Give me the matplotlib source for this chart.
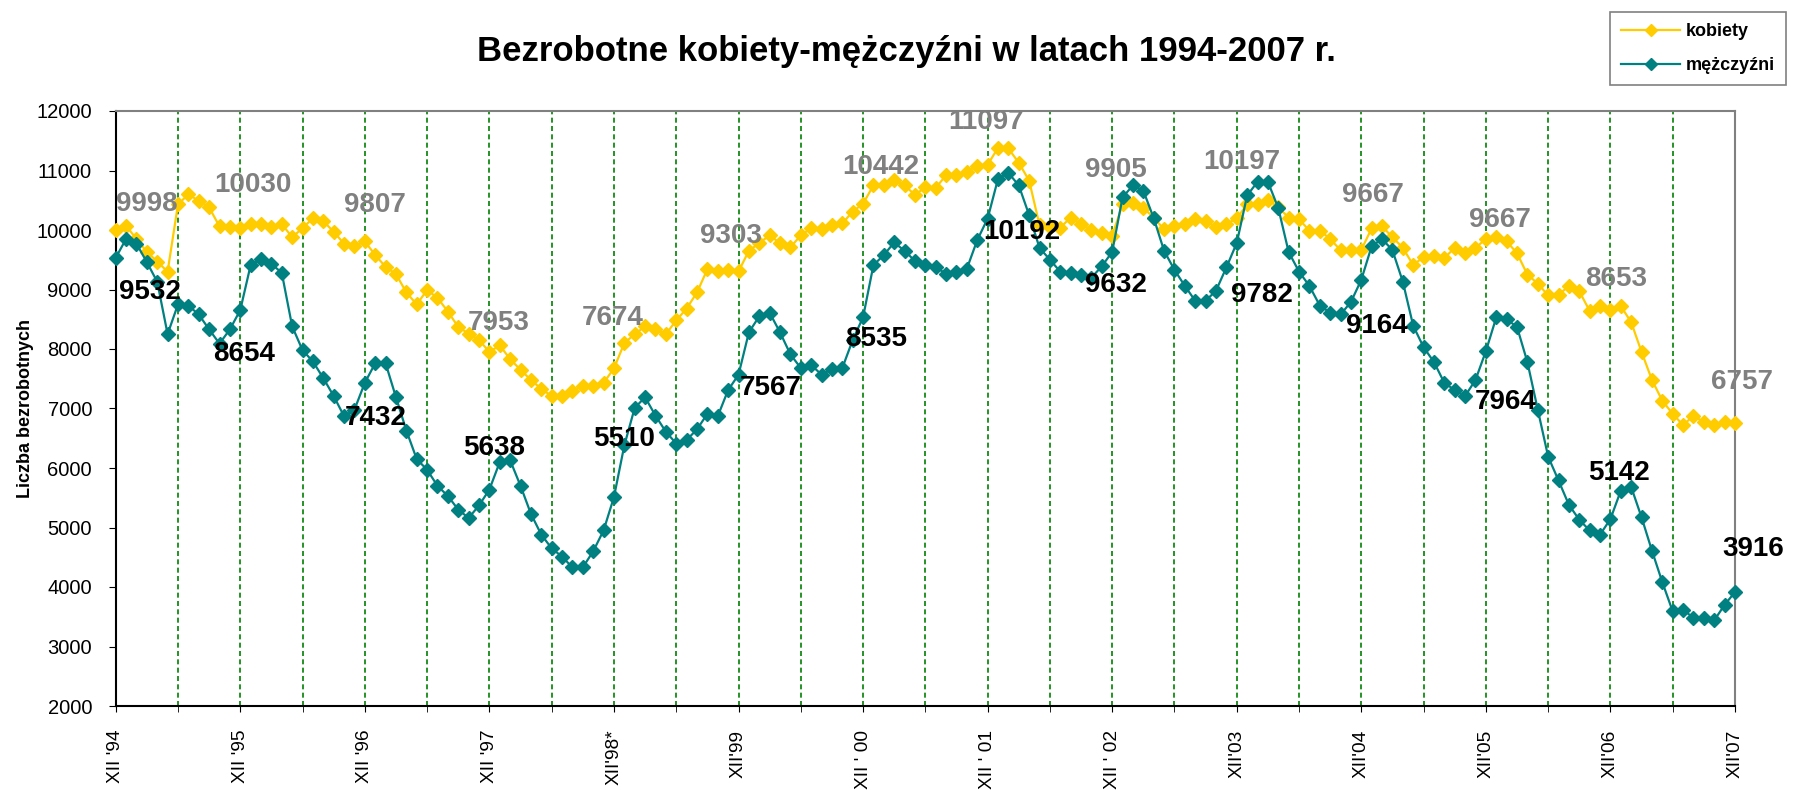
import numpy as np
import matplotlib
matplotlib.use("Agg")
import matplotlib.pyplot as plt

plt.rcParams['font.family'] = ['Liberation Sans', 'DejaVu Sans']

# Dane miesięczne XII 1994 - XII 2007 (157 punktów)
kobiety = [
    9998, 10070, 9850, 9630, 9470, 9300, 10430, 10600, 10490, 10380, 10060, 10050,
    10030, 10100, 10100, 10050, 10100, 9880, 10030, 10200, 10150, 9970, 9770, 9730,
    9807, 9580, 9380, 9260, 8950, 8750, 8990, 8860, 8630, 8370, 8260, 8150,
    7953, 8060, 7830, 7650, 7480, 7330, 7210, 7210, 7300, 7380, 7380, 7430,
    7674, 8100, 8250, 8380, 8330, 8250, 8480, 8680, 8950, 9340, 9310, 9320,
    9303, 9650, 9780, 9910, 9780, 9710, 9910, 10030, 10010, 10080, 10110, 10310,
    10442, 10750, 10760, 10840, 10750, 10590, 10720, 10710, 10920, 10920, 10980, 11080,
    11097, 11380, 11370, 11130, 10830, 10080, 10050, 10040, 10210, 10100, 10000, 9950,
    9905, 10430, 10460, 10370, 10210, 10010, 10060, 10100, 10190, 10150, 10050, 10100,
    10197, 10430, 10430, 10510, 10380, 10210, 10180, 9990, 9990, 9850, 9660, 9660,
    9667, 10030, 10060, 9880, 9700, 9410, 9550, 9570, 9530, 9700, 9610, 9700,
    9850, 9880, 9810, 9610, 9250, 9100, 8900, 8910, 9060, 8970, 8640, 8720,
    8653, 8720, 8450, 7950, 7480, 7130, 6910, 6720, 6880, 6770, 6730, 6770,
    6757,
]
mezczyzni = [
    9532, 9850, 9770, 9460, 9130, 8250, 8750, 8730, 8580, 8330, 8090, 8330,
    8654, 9410, 9510, 9430, 9280, 8380, 7980, 7790, 7510, 7210, 6870, 6980,
    7432, 7760, 7760, 7190, 6630, 6150, 5970, 5700, 5530, 5300, 5160, 5370,
    5638, 6100, 6130, 5700, 5230, 4880, 4650, 4510, 4330, 4330, 4600, 4950,
    5510, 6380, 7010, 7190, 6880, 6610, 6410, 6470, 6650, 6910, 6870, 7310,
    7567, 8280, 8550, 8610, 8280, 7910, 7680, 7730, 7570, 7660, 7680, 8150,
    8535, 9410, 9580, 9790, 9650, 9480, 9410, 9380, 9260, 9300, 9350, 9830,
    10192, 10860, 10960, 10750, 10250, 9700, 9500, 9300, 9270, 9250, 9200, 9390,
    9632, 10550, 10750, 10660, 10200, 9650, 9330, 9060, 8810, 8810, 8980, 9370,
    9782, 10580, 10810, 10810, 10370, 9630, 9300, 9060, 8730, 8610, 8580, 8790,
    9164, 9730, 9850, 9660, 9130, 8390, 8030, 7780, 7430, 7310, 7210, 7480,
    7964, 8530, 8500, 8370, 7780, 6980, 6190, 5790, 5380, 5130, 4950, 4880,
    5142, 5620, 5680, 5170, 4610, 4080, 3590, 3620, 3480, 3480, 3440, 3700,
    3916,
]

tick_labels = ["XII '94", "XII '95", "XII '96", "XII '97", "XII'98*", "XII'99",
               "XII ' 00", "XII ' 01", "XII ' 02", "XII'03", "XII'04", "XII'05",
               "XII'06", "XII'07"]

# etykiety danych (co grudzień)
kob_etykiety = ["9998", "10030", "9807", "7953", "7674", "9303", "10442",
                "11097", "9905", "10197", "9667", "9667", "8653", "6757"]
mez_etykiety = ["9532", "8654", "7432", "5638", "5510", "7567", "8535",
                "10192", "9632", "9782", "9164", "7964", "5142", "3916"]

# przesunięcia etykiet w pikselach
kob_off = [(31, 26), (13, 43), (10, 36), (9, 29), (-1, 50), (-8, 35), (18, 37),
           (-2, 43), (4, 66), (5, 56), (12, 55), (14, 19), (6, 31), (7, 41)]
mez_off = [(34, -34), (4, -44), (11, -35), (5, 42), (10, 58), (32, -13), (13, -22),
           (34, -13), (4, -33), (25, -52), (15, -46), (20, -51), (9, 46), (18, 43)]

x = np.arange(len(kobiety))

fig = plt.figure(figsize=(17.95, 7.9), dpi=100)
ax = fig.add_axes([115.7 / 1795, 1 - 706 / 790, (1735 - 115.7) / 1795, (706 - 111) / 790])

kol_k = '#FFCC00'
kol_m = '#008080'

ax.plot(x, kobiety, color=kol_k, lw=1.6, marker='D', ms=7, mec=kol_k, mfc=kol_k,
        label='kobiety', clip_on=False, zorder=3)
ax.plot(x, mezczyzni, color=kol_m, lw=1.6, marker='D', ms=7, mec=kol_m, mfc=kol_m,
        label='mężczyźni', clip_on=False, zorder=4)

for k in range(6, 156, 6):
    ax.axvline(k, color='#008000', lw=1.2, dashes=(3, 2), zorder=1)

ax.set_xlim(0, 156)
ax.set_ylim(2000, 12000)
ax.set_yticks(range(2000, 12001, 1000))
ax.set_xticks(range(0, 157, 12))
ax.set_xticklabels(tick_labels, rotation=90, fontsize=13.8)
ax.set_xticks(range(6, 157, 12), minor=True)
ax.tick_params(axis='x', which='both', length=4, direction='out', pad=13)
ax.tick_params(axis='y', length=5, labelsize=14.5, pad=12)

ax.spines['top'].set_color('#808080')
ax.spines['right'].set_color('#808080')
ax.spines['left'].set_color('black')
ax.spines['bottom'].set_color('black')
for s in ax.spines.values():
    s.set_linewidth(1.5)

ax.set_ylabel('Liczba bezrobotnych', fontsize=13, fontweight='bold', labelpad=2)

for j in range(len(kob_etykiety)):
    i = 12 * j
    ax.annotate(kob_etykiety[j], (i, kobiety[i]),
                xytext=(kob_off[j][0] * 0.72, kob_off[j][1] * 0.72), textcoords='offset points',
                ha='center', va='center', fontsize=20, fontweight='bold', color='#808080',
                annotation_clip=False, zorder=5)
    ax.annotate(mez_etykiety[j], (i, mezczyzni[i]),
                xytext=(mez_off[j][0] * 0.72, mez_off[j][1] * 0.72), textcoords='offset points',
                ha='center', va='center', fontsize=20, fontweight='bold', color='black',
                annotation_clip=False, zorder=5)

fig.text(906 / 1795, 1 - 52 / 790, 'Bezrobotne kobiety-mężczyźni w latach 1994-2007 r.',
         ha='center', va='center', fontsize=25, fontweight='bold')

leg = fig.legend(loc='upper left', bbox_to_anchor=(1610 / 1795, 1 - 12 / 790), borderaxespad=0,
                 fancybox=False, edgecolor='#808080', framealpha=1,
                 prop={'weight': 'bold', 'size': 13}, handlelength=3.3, handletextpad=0.3,
                 labelspacing=0.95, borderpad=0.6, markerscale=0.9)
leg.get_frame().set_linewidth(1.2)

fig.savefig('out.png', dpi=100)
